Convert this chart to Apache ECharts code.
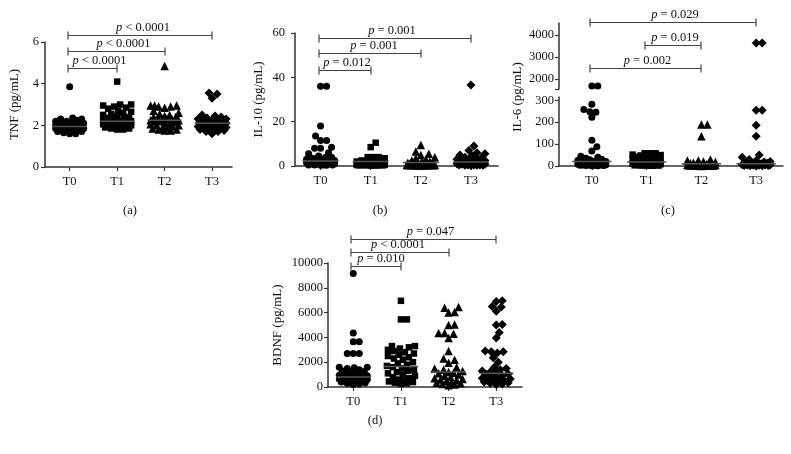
<!DOCTYPE html>
<html><head><meta charset="utf-8">
<script src="https://cdn.jsdelivr.net/npm/echarts@6/dist/echarts.min.js"></script>
<style>html,body{margin:0;padding:0;background:#fff}#c{width:791px;height:454px}</style>
</head><body><div id="c"></div>
<script>
// ---------- data ----------
const categories = ['T0', 'T1', 'T2', 'T3'];

const tnfT0 = [3.85, 2.35, 2.3, 2.3, 2.25, 2.2, 2.2, 2.15, 2.1, 2.1, 2.05, 2.0, 2.0, 2.0, 1.95, 1.95, 1.95, 1.9, 1.9, 1.9, 1.9, 1.85, 1.85, 1.85, 1.8, 1.8, 1.8, 1.75, 1.75, 1.7, 1.7, 1.65, 1.6, 1.6, 2.05, 1.95, 2.1, 1.9];
const tnfT1 = [4.1, 3.0, 3.0, 2.95, 2.9, 2.85, 2.8, 2.7, 2.65, 2.6, 2.55, 2.5, 2.45, 2.4, 2.35, 2.3, 2.3, 2.25, 2.2, 2.2, 2.2, 2.15, 2.15, 2.1, 2.1, 2.05, 2.0, 2.0, 1.95, 1.95, 1.9, 1.9, 1.85, 1.85, 1.8, 1.8, 2.25, 2.05];
const tnfT2 = [4.85, 2.95, 2.95, 2.95, 2.9, 2.9, 2.85, 2.7, 2.6, 2.55, 2.5, 2.45, 2.4, 2.35, 2.3, 2.3, 2.25, 2.25, 2.2, 2.2, 2.15, 2.1, 2.1, 2.05, 2.0, 2.0, 1.95, 1.9, 1.9, 1.85, 1.8, 1.8, 1.75, 1.75, 2.3, 2.4];
const tnfT3 = [3.55, 3.5, 3.3, 2.5, 2.45, 2.4, 2.35, 2.3, 2.3, 2.25, 2.2, 2.2, 2.15, 2.15, 2.1, 2.1, 2.1, 2.05, 2.05, 2.0, 2.0, 1.95, 1.95, 1.9, 1.9, 1.85, 1.85, 1.8, 1.8, 1.75, 1.7, 1.7, 1.6, 2.1, 2.0];
const tnfMedian = [1.95, 2.2, 2.25, 2.1];

const il10T0 = [36, 36, 18, 13.5, 11.5, 11.5, 8.5, 8, 8, 6, 5.5, 4.5, 4, 4, 3.5, 3, 3, 3, 2.5, 2.5, 2.5, 2, 2, 2, 2, 1.5, 1.5, 1.5, 1, 1, 1, 1, 0.5, 0.5, 0.5, 0.5, 0.3, 0.3];
const il10T1 = [10.5, 8.5, 4, 4, 4, 3.5, 2.5, 2, 2, 2, 2, 2, 1.5, 1.5, 1.5, 1.5, 1, 1, 1, 1, 1, 1, 0.5, 0.5, 0.5, 0.5, 0.5, 0.5, 0.3, 0.3, 0.3, 0.3, 0.2, 0.2];
const il10T2 = [9.5, 6.5, 5.5, 5, 4, 3.5, 3, 2.5, 2, 2, 1.5, 1.5, 1.5, 1, 1, 1, 1, 1, 0.8, 0.8, 0.8, 0.5, 0.5, 0.5, 0.5, 0.5, 0.3, 0.3, 0.3, 0.3, 0.2, 0.2, 0.2];
const il10T3 = [36.5, 9, 7, 6, 5.5, 5, 4.5, 4, 3.5, 3, 3, 2.5, 2.5, 2, 2, 2, 1.5, 1.5, 1.5, 1, 1, 1, 1, 0.8, 0.8, 0.5, 0.5, 0.5, 0.5, 0.3, 0.3, 0.3, 0.2];
const il10Median = [2.2, 2.0, 1.6, 1.8];

const il6T0 = [1680, 1680, 282, 258, 248, 245, 222, 118, 88, 68, 45, 40, 35, 30, 28, 25, 22, 20, 18, 16, 15, 14, 12, 10, 10, 8, 8, 6, 5, 5, 4, 3, 3, 2, 2, 1, 1];
const il6T1 = [58, 58, 58, 52, 50, 48, 45, 42, 40, 38, 35, 32, 30, 28, 25, 22, 20, 18, 15, 14, 12, 10, 10, 8, 8, 6, 5, 4, 3, 2, 2, 1, 1];
const il6T2 = [190, 190, 136, 30, 25, 25, 20, 18, 15, 12, 10, 10, 8, 8, 6, 5, 5, 4, 3, 3, 2, 2, 2, 1, 1, 1, 0.5];
const il6T3 = [3640, 3640, 255, 255, 186, 136, 50, 40, 30, 25, 20, 18, 15, 12, 10, 10, 8, 8, 6, 5, 5, 4, 3, 3, 2, 2, 1, 1, 0.5];
const il6Median = [20, 18, 10, 10];

const bdnfT0 = [9150, 4350, 3650, 3650, 2700, 2700, 2700, 1600, 1600, 1550, 1500, 1400, 1300, 1200, 1100, 1000, 950, 900, 850, 800, 800, 750, 700, 650, 600, 600, 550, 500, 450, 400, 400, 350, 300, 250, 200, 1250, 1050];
const bdnfT1 = [6950, 5450, 5450, 3300, 3300, 3200, 3100, 3000, 2900, 2800, 2700, 2600, 2500, 2400, 2300, 2200, 2000, 1900, 1800, 1700, 1600, 1500, 1400, 1300, 1200, 1100, 1000, 900, 800, 700, 600, 500, 450, 400, 350, 300, 250];
const bdnfT2 = [6450, 6400, 6050, 6000, 5050, 5000, 4350, 4350, 4300, 3950, 2900, 2300, 2200, 1950, 1600, 1500, 1400, 1300, 1200, 1150, 1100, 1000, 900, 800, 700, 650, 600, 550, 500, 400, 350, 300, 250, 200, 150];
const bdnfT3 = [6950, 6900, 6500, 6450, 6100, 5050, 5000, 4400, 3950, 2900, 2850, 2850, 2750, 2350, 2000, 1600, 1500, 1400, 1300, 1200, 1100, 1050, 1000, 900, 800, 750, 700, 650, 600, 550, 500, 450, 400, 350, 300, 250, 200];
const bdnfMedian = [800, 1650, 1200, 1100];

const tnfPairs = [[0, 1], [0, 2], [0, 3]];
const tnfP = ['< 0.0001', '< 0.0001', '< 0.0001'];
const il10Pairs = [[0, 1], [0, 2], [0, 3]];
const il10P = ['= 0.012', '= 0.001', '= 0.001'];
const il6Pairs = [[0, 2], [1, 2], [0, 3]];
const il6P = ['= 0.002', '= 0.019', '= 0.029'];
const bdnfPairs = [[0, 1], [0, 2], [0, 3]];
const bdnfP = ['= 0.010', '< 0.0001', '= 0.047'];

const tnfTicks = [0, 2, 4, 6];
const il10Ticks = [0, 20, 40, 60];
const il6LowTicks = [0, 100, 200, 300];
const il6HighTicks = [2000, 3000, 4000];
const bdnfTicks = [0, 2000, 4000, 6000, 8000, 10000];

// ---------- layout / style ----------
const FONT = '"Liberation Serif", "DejaVu Serif", serif';
const INK = '#111';
const AX = '#333';
const symbols = ['circle', 'rect', 'triangle', 'diamond'];
const symSizes = [7, 6.5, 8.5, 9];

const panels = [
  { key: 'a', grid: { left: 45, top: 42, width: 187, height: 125 }, x: [-0.52, 3.42], y: [0, 6], ticks: tnfTicks,
    groups: [tnfT0, tnfT1, tnfT2, tnfT3], median: tnfMedian, name: 'TNF (pg/mL)', nameGap: 24, labelMargin: 6,
    pairs: tnfPairs, p: tnfP, levels: [4.75, 5.57, 6.34], shift: [7, 7, 3] },
  { key: 'b', grid: { left: 295, top: 33, width: 203, height: 133 }, x: [-0.51, 3.54], y: [0, 60], ticks: il10Ticks,
    groups: [il10T0, il10T1, il10T2, il10T3], median: il10Median, name: 'IL-10 (pg/mL)', nameGap: 30, labelMargin: 10,
    pairs: il10Pairs, p: il10P, levels: [43.3, 51.0, 57.7], shift: [2, 4, -3] },
  { key: 'd', grid: { left: 328, top: 263, width: 194, height: 124 }, x: [-0.53, 3.54], y: [0, 10000], ticks: bdnfTicks,
    groups: [bdnfT0, bdnfT1, bdnfT2, bdnfT3], median: bdnfMedian, name: 'BDNF (pg/mL)', nameGap: 44, labelMargin: 5,
    pairs: bdnfPairs, p: bdnfP, levels: [9760, 10890, 11940], shift: [5, -2, 7] }
];
const il6Low = { grid: { left: 559, top: 97, width: 224, height: 69 }, y: [0, 315] };
const il6High = { grid: { left: 559, top: 23, width: 224, height: 66 }, y: [1545, 4545] };
const il6X = [-0.6, 3.49];
const il6Levels = [2500, 3545, 4590];
const il6Shift = [2, 2, 2];
const il6LabelMargin = 5;

function swarm(values, pxY, pxX, minDist, maxOff) {
  const idx = values.map((v, i) => i).sort((a, b) => values[a] - values[b]);
  const placed = [];
  const off = new Array(values.length).fill(0);
  for (const i of idx) {
    const y = values[i] * pxY;
    let best = 0, bestScore = -1;
    for (let k = 0; k <= 2 * maxOff; k++) {
      const o = (k % 2 === 1 ? 1 : -1) * Math.ceil(k / 2);
      let md = Infinity;
      for (const p of placed) {
        const d = Math.hypot(p[0] - o, p[1] - y);
        if (d < md) md = d;
      }
      if (md >= minDist) { best = o; bestScore = Infinity; break; }
      if (md > bestScore) { bestScore = md; best = o; }
    }
    placed.push([best, y]);
    off[i] = best / pxX;
  }
  return off;
}

const grids = [], xAxes = [], yAxes = [], series = [];

function baseX(gi, xr, show) {
  return {
    type: 'value', gridIndex: gi, min: xr[0], max: xr[1], show: show,
    splitLine: { show: false },
    axisLine: { show: true, onZero: false, lineStyle: { color: AX, width: 1.5 } },
    axisTick: { show: true, length: 4, inside: false, customValues: [0, 1, 2, 3], lineStyle: { color: AX, width: 1.2 } },
    axisLabel: { show: true, customValues: [0, 1, 2, 3], formatter: v => categories[Math.round(v)] || '',
      color: INK, fontFamily: FONT, fontSize: 12.5, margin: 8 }
  };
}
function baseY(gi, yr, ticks, margin, tickVals) {
  return {
    type: 'value', gridIndex: gi, min: yr[0], max: yr[1],
    splitLine: { show: false },
    axisLine: { show: true, onZero: false, lineStyle: { color: AX, width: 1.5 } },
    axisTick: { show: true, length: 4, customValues: tickVals || ticks, lineStyle: { color: AX, width: 1.2 } },
    axisLabel: { customValues: ticks, formatter: v => String(v), color: INK, fontFamily: FONT, fontSize: 12.5, margin: margin }
  };
}
function scatterSeries(gi, ci, vals, xoff) {
  return {
    type: 'scatter', xAxisIndex: gi, yAxisIndex: gi, symbol: symbols[ci], symbolSize: symSizes[ci],
    itemStyle: { color: '#000', opacity: 1 }, silent: true, z: 2,
    data: vals.map((v, k) => [ci + xoff[k], v])
  };
}
function medianSeries(gi, med) {
  return {
    type: 'custom', xAxisIndex: gi, yAxisIndex: gi, z: 3, silent: true,
    data: med.map((m, i) => [i, m]),
    renderItem: (params, api) => {
      const i = api.value(0), m = api.value(1);
      const p1 = api.coord([i - 0.36, m]), p2 = api.coord([i + 0.36, m]);
      return { type: 'line', shape: { x1: p1[0], y1: p1[1], x2: p2[0], y2: p2[1] },
        style: { stroke: '#555', lineWidth: 1.5 } };
    }
  };
}
function bracketSeries(gi, pairs, ptext, levels, shift) {
  return {
    type: 'custom', xAxisIndex: gi, yAxisIndex: gi, z: 4, silent: true, clip: false,
    data: pairs.map((pr, k) => [pr[0], pr[1], levels[k], k]),
    renderItem: (params, api) => {
      const a = api.coord([api.value(0), api.value(2)]);
      const b = api.coord([api.value(1), api.value(2)]);
      const k = api.value(3);
      const y = Math.round(a[1]) + 0.5;
      const x1 = Math.round(a[0]) - 2, x2 = Math.round(b[0]);
      const st = { stroke: '#444', lineWidth: 1.2 };
      return { type: 'group', children: [
        { type: 'line', shape: { x1: x1, y1: y, x2: x2, y2: y }, style: st },
        { type: 'line', shape: { x1: x1, y1: y - 4, x2: x1, y2: y + 4 }, style: st },
        { type: 'line', shape: { x1: x2, y1: y - 4, x2: x2, y2: y + 4 }, style: st },
        { type: 'text', x: (x1 + x2) / 2 + shift[k], y: y - 8,
          style: { text: '{i|p} ' + ptext[k], align: 'center', verticalAlign: 'middle',
            fill: INK, fontFamily: FONT, fontSize: 12.5,
            rich: { i: { fontStyle: 'italic', fontFamily: FONT, fontSize: 12.5, fill: INK } } } }
      ] };
    }
  };
}

panels.forEach(pn => {
  const gi = grids.length;
  grids.push(Object.assign({ show: false, containLabel: false, outerBoundsMode: 'none' }, pn.grid));
  xAxes.push(baseX(gi, pn.x, true));
  const y = baseY(gi, pn.y, pn.ticks, pn.labelMargin);
  y.name = pn.name; y.nameLocation = 'middle'; y.nameRotate = 90; y.nameGap = pn.nameGap;
  y.nameTextStyle = { fontFamily: FONT, fontSize: 13, color: INK };
  yAxes.push(y);
  const pxY = pn.grid.height / (pn.y[1] - pn.y[0]);
  const pxX = pn.grid.width / (pn.x[1] - pn.x[0]);
  pn.groups.forEach((vals, ci) => {
    const off = swarm(vals, pxY, pxX, 6, 14);
    series.push(scatterSeries(gi, ci, vals, off));
  });
  series.push(medianSeries(gi, pn.median));
  series.push(bracketSeries(gi, pn.pairs, pn.p, pn.levels, pn.shift));
});

// IL-6 broken axis: two grids
(function () {
  const gLow = grids.length;
  grids.push(Object.assign({ show: false, containLabel: false, outerBoundsMode: 'none' }, il6Low.grid));
  xAxes.push(baseX(gLow, il6X, true));
  yAxes.push(baseY(gLow, il6Low.y, il6LowTicks, il6LabelMargin));
  const gHigh = grids.length;
  grids.push(Object.assign({ show: false, containLabel: false, outerBoundsMode: 'none' }, il6High.grid));
  xAxes.push(baseX(gHigh, il6X, false));
  yAxes.push(baseY(gHigh, il6High.y, il6HighTicks, il6LabelMargin, [il6High.y[0]].concat(il6HighTicks)));
  const groups = [il6T0, il6T1, il6T2, il6T3];
  const pxX = il6Low.grid.width / (il6X[1] - il6X[0]);
  const pxYLow = il6Low.grid.height / (il6Low.y[1] - il6Low.y[0]);
  const pxYHigh = il6High.grid.height / (il6High.y[1] - il6High.y[0]);
  groups.forEach((vals, ci) => {
    const low = vals.filter(v => v <= il6Low.y[1]);
    const high = vals.filter(v => v > il6Low.y[1]);
    series.push(scatterSeries(gLow, ci, low, swarm(low, pxYLow, pxX, 6, 14)));
    if (high.length) series.push(scatterSeries(gHigh, ci, high, swarm(high, pxYHigh, pxX, 6, 14)));
  });
  series.push(medianSeries(gLow, il6Median));
  series.push(bracketSeries(gHigh, il6Pairs, il6P, il6Levels, il6Shift));
})();

const chart = echarts.init(document.getElementById('c'), null, { renderer: 'canvas' });
chart.setOption({
  animation: false,
  backgroundColor: '#fff',
  grid: grids, xAxis: xAxes, yAxis: yAxes, series: series,
  graphic: [
    { type: 'text', x: 518, y: 97, rotation: Math.PI / 2,
      style: { text: 'IL-6 (pg/mL)', fontFamily: FONT, fontSize: 13, fill: INK, align: 'center', verticalAlign: 'middle' } },
    { type: 'text', x: 130, y: 211, style: { text: '(a)', fontFamily: FONT, fontSize: 12.5, fill: INK, align: 'center', verticalAlign: 'middle' } },
    { type: 'text', x: 380, y: 211, style: { text: '(b)', fontFamily: FONT, fontSize: 12.5, fill: INK, align: 'center', verticalAlign: 'middle' } },
    { type: 'text', x: 668, y: 211, style: { text: '(c)', fontFamily: FONT, fontSize: 12.5, fill: INK, align: 'center', verticalAlign: 'middle' } },
    { type: 'text', x: 375, y: 421, style: { text: '(d)', fontFamily: FONT, fontSize: 12.5, fill: INK, align: 'center', verticalAlign: 'middle' } }
  ]
});
</script>
</body></html>
